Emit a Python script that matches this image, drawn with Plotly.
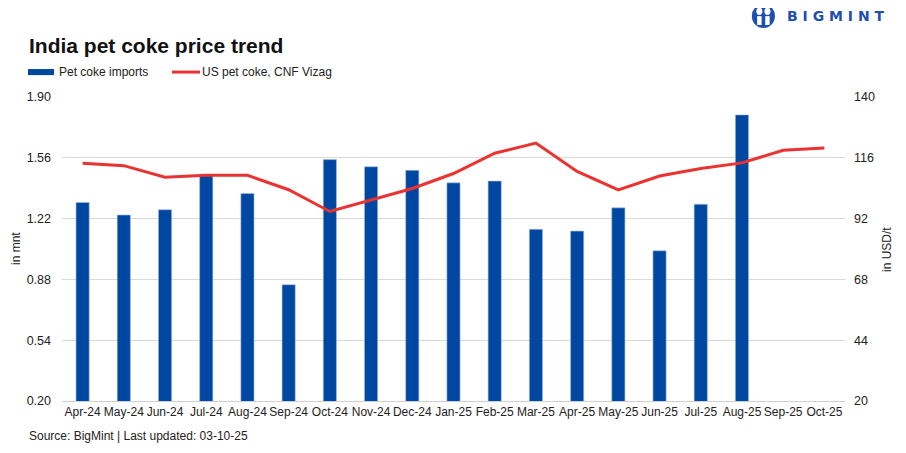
import plotly.graph_objects as go

months = ["Apr-24", "May-24", "Jun-24", "Jul-24", "Aug-24", "Sep-24", "Oct-24", "Nov-24",
          "Dec-24", "Jan-25", "Feb-25", "Mar-25", "Apr-25", "May-25", "Jun-25", "Jul-25",
          "Aug-25", "Sep-25", "Oct-25"]
imports_mnt = [1.31, 1.24, 1.27, 1.46, 1.36, 0.85, 1.55, 1.51, 1.49, 1.42, 1.43, 1.16,
               1.15, 1.28, 1.04, 1.30, 1.80, None, None]
price_usd = [113.8, 112.9, 108.3, 109.1, 109.1, 103.4, 94.8, 99.4, 103.9, 109.8, 117.8,
             121.8, 110.6, 103.3, 108.8, 111.8, 114.0, 119.0, 119.9]

left_ticks = [0.20, 0.54, 0.88, 1.22, 1.56, 1.90]
right_ticks = [20, 44, 68, 92, 116, 140]

BLUE = "#0047A1"
RED = "#EC3230"
LOGO = "#1E4FB0"
FONT = "Liberation Sans"
TXT = "#222222"

fig = go.Figure()
fig.add_trace(go.Bar(
    x=months, y=imports_mnt, name="Pet coke imports",
    marker=dict(color=BLUE, line=dict(color="#A9BEDF", width=0.6)),
    width=0.32, yaxis="y",
))
fig.add_trace(go.Scatter(
    x=months, y=price_usd, name="US pet coke, CNF Vizag", mode="lines",
    line=dict(color=RED, width=3), yaxis="y2",
))

# page has an 8px body margin, so the figure is sized to fit the 906x453 window
fig.update_layout(
    width=898, height=445,
    margin=dict(l=54, r=61, t=89, b=52),
    paper_bgcolor="white", plot_bgcolor="white",
    font=dict(family=FONT, size=12, color=TXT),
    showlegend=False,
    xaxis=dict(
        type="category", categoryorder="array", categoryarray=months,
        showline=True, linecolor="#D0D0D0", linewidth=1, automargin=False,
        ticks="", tickfont=dict(size=12, color=TXT), tickangle=0,
        showgrid=False,
    ),
    yaxis=dict(
        range=[0.20, 1.90], tickvals=left_ticks, tickformat=".2f", automargin=False,
        showgrid=True, gridcolor="#D9D9D9", gridwidth=1, zeroline=False,
        ticks="", tickfont=dict(size=12.5), ticklabelstandoff=10,
    ),
    yaxis2=dict(
        range=[20, 140], tickvals=right_ticks, overlaying="y", side="right",
        showgrid=False, zeroline=False, ticks="", tickfont=dict(size=12.5),
        ticklabelstandoff=8, automargin=False,
    ),
)

# Axis titles
fig.add_annotation(text="in mnt", xref="paper", yref="paper", x=-0.0587, y=0.5,
                   textangle=-90, showarrow=False, xanchor="center", yanchor="middle",
                   font=dict(size=12, color=TXT))
fig.add_annotation(text="in USD/t", xref="paper", yref="paper", x=1.0536, y=0.5,
                   textangle=-90, showarrow=False, xanchor="center", yanchor="middle",
                   font=dict(size=12, color=TXT))

# Title
fig.add_annotation(text="<b>India pet coke price trend</b>", xref="paper", yref="paper",
                   x=-0.0447, y=1.171, xanchor="left", yanchor="middle", showarrow=False,
                   font=dict(size=21, color="#111111", family=FONT))

# Legend (custom)
fig.add_shape(type="rect", xref="paper", yref="paper", x0=-0.0434, x1=-0.0102,
              y0=1.072, y1=1.092, fillcolor=BLUE, line=dict(width=0))
fig.add_annotation(text="Pet coke imports", xref="paper", yref="paper", x=-0.0064, y=1.082,
                   xanchor="left", yanchor="middle", showarrow=False,
                   font=dict(size=12, color=TXT))
fig.add_shape(type="line", xref="paper", yref="paper", x0=0.1405, x1=0.1762,
              y0=1.082, y1=1.082, line=dict(color=RED, width=3))
fig.add_annotation(text="US pet coke, CNF Vizag", xref="paper", yref="paper", x=0.1762, y=1.082,
                   xanchor="left", yanchor="middle", showarrow=False,
                   font=dict(size=12, color=TXT))

# Source
fig.add_annotation(text="Source: BigMint | Last updated: 03-10-25", xref="paper", yref="paper",
                   x=-0.0447, y=-0.115, xanchor="left", yanchor="middle", showarrow=False,
                   font=dict(size=12, color=TXT))

# Logo
fig.add_shape(type="circle", xref="paper", yref="paper", x0=0.881, x1=0.9106,
              y0=1.227, y1=1.306, fillcolor=LOGO, line=dict(width=0))
fig.add_shape(type="circle", xref="paper", yref="paper", x0=0.8868, x1=0.8945,
              y0=1.270, y1=1.294, fillcolor="white", line=dict(width=0))
fig.add_shape(type="circle", xref="paper", yref="paper", x0=0.8971, x1=0.9048,
              y0=1.270, y1=1.294, fillcolor="white", line=dict(width=0))
fig.add_shape(type="rect", xref="paper", yref="paper", x0=0.8878, x1=0.8935,
              y0=1.237, y1=1.266, fillcolor="white", line=dict(width=0))
fig.add_shape(type="rect", xref="paper", yref="paper", x0=0.8981, x1=0.9038,
              y0=1.237, y1=1.266, fillcolor="white", line=dict(width=0))
fig.add_annotation(text="<b>B I G M I N T</b>", xref="paper", yref="paper", x=0.923, y=1.266,
                   xanchor="left", yanchor="middle", showarrow=False,
                   font=dict(size=14, color=LOGO, family="DejaVu Sans"))

fig.write_html("out.html")
